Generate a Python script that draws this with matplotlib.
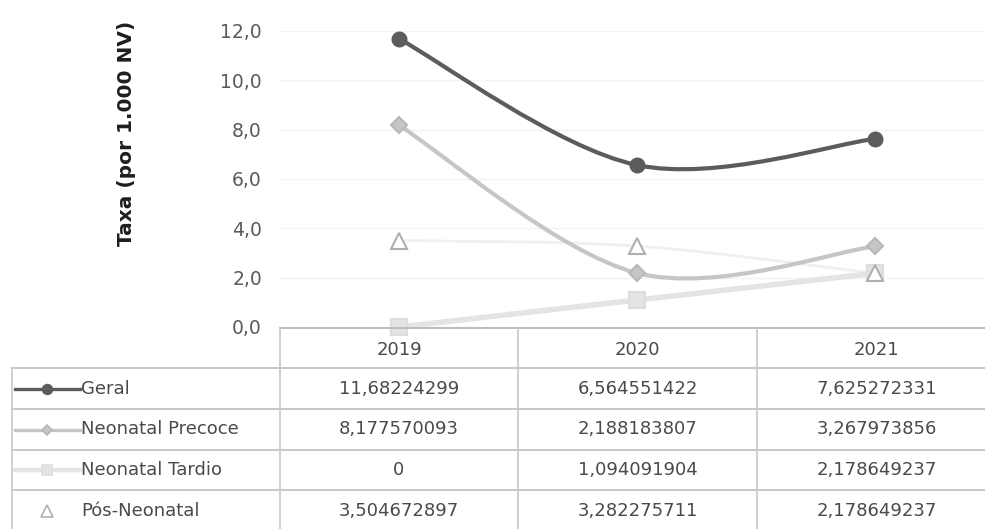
import matplotlib
matplotlib.use("Agg")
import matplotlib.pyplot as plt
from matplotlib.path import Path
from matplotlib.patches import PathPatch
from matplotlib.lines import Line2D

plt.rcParams['font.family'] = ['DejaVu Sans']

# Data
years = ['2019', '2020', '2021']
geral = [11.68224299, 6.564551422, 7.625272331]
precoce = [8.177570093, 2.188183807, 3.267973856]
tardio = [0, 1.094091904, 2.178649237]
pos_neo = [3.504672897, 3.282275711, 2.178649237]
series_names = ['Geral', 'Neonatal Precoce', 'Neonatal Tardio', 'Pós-Neonatal']
yticks = [0, 2, 4, 6, 8, 10, 12]

W, H = 985, 529
fig = plt.figure(figsize=(W / 100, H / 100), dpi=100)

# plot area in pixels: x 280..994, y 31(=12)..327(=0)
ax = fig.add_axes([280 / W, 1 - 327 / H, 714 / W, (327 - 31) / H])
ax.set_xlim(-0.5, 2.5)
ax.set_ylim(0, 12)
for s in ax.spines.values():
    s.set_visible(False)
ax.set_xticks([])
ax.set_yticks(yticks)
ax.set_yticklabels([f"{v:.1f}".replace('.', ',') for v in yticks], color='#5a5a5a', fontsize=13.5)
ax.tick_params(axis='y', length=0, pad=13)
ax.grid(axis='y', color='#f3f3f3', lw=1)
ax.set_axisbelow(True)


def smooth_path(xs, ys):
    pts = list(zip(xs, ys))
    n = len(pts)
    verts = [pts[0]]
    codes = [Path.MOVETO]
    for i in range(n - 1):
        p0 = pts[i - 1] if i > 0 else pts[i]
        p1 = pts[i]
        p2 = pts[i + 1]
        p3 = pts[i + 2] if i + 2 < n else pts[i + 1]
        c1 = (p1[0] + (p2[0] - p0[0]) / 6, p1[1] + (p2[1] - p0[1]) / 6)
        c2 = (p2[0] - (p3[0] - p1[0]) / 6, p2[1] - (p3[1] - p1[1]) / 6)
        verts += [c1, c2, p2]
        codes += [Path.CURVE4] * 3
    return Path(verts, codes)


xs = list(range(len(years)))
styles = [
    dict(vals=geral, color='#5c5c5c', lw=3, marker='o', ms=10, mfc='#5c5c5c', mec='#5c5c5c', key=True),
    dict(vals=precoce, color='#c6c6c6', lw=3, marker='D', ms=8, mfc='#c6c6c6', mec='#b8b8b8', key=True),
    dict(vals=tardio, color='#e4e4e4', lw=4, marker='s', ms=11, mfc='#e4e4e4', mec='#dddddd', key=True),
    dict(vals=pos_neo, color='#f0f0f0', lw=2, marker='^', ms=12, mfc='white', mec='#b0b0b0', key=False),
]
for z, st in zip([5, 4, 3, 2], styles):
    ax.add_patch(PathPatch(smooth_path(xs, st['vals']), fill=False, ec=st['color'],
                           lw=st['lw'], capstyle='round', zorder=z, clip_on=False))
for z, st in zip([5, 4, 3, 6], styles):
    ax.plot(xs, st['vals'], ls='none', marker=st['marker'], ms=st['ms'], mfc=st['mfc'],
            mec=st['mec'], mew=1.5, zorder=z + 0.5, clip_on=False)

# Y label
fig.text(127 / W, 1 - 133 / H, 'Taxa (por 1.000 NV)', rotation=90, ha='center', va='center',
         fontsize=14.5, fontweight='bold', color='#1e1e1e')

# Data table drawn in pixel coords
tab = fig.add_axes([0, 0, 1, 1])
tab.set_xlim(0, W)
tab.set_ylim(H, 0)
tab.axis('off')

col_x = [12, 280, 518, 757, 996]
row_y = [328, 368, 409, 450, 490, 531]
lc = '#c8c8c8'
tab.plot([280, W], [row_y[0], row_y[0]], color='#bdbdbd', lw=1.4)
for yy in row_y[1:5]:
    tab.plot([col_x[0], W], [yy, yy], color=lc, lw=1.4)
tab.plot([col_x[0], col_x[0]], [row_y[1], H], color=lc, lw=1.2)
for xx in col_x[1:4]:
    tab.plot([xx, xx], [row_y[0], H], color=lc, lw=1.2)

txt_color = '#4a4a4a'
centers = [(col_x[j] + col_x[j + 1]) / 2 for j in range(1, 4)]
for cx, yr in zip(centers, years):
    tab.text(cx, (row_y[0] + row_y[1]) / 2 + 2, yr, ha='center', va='center', fontsize=13, color=txt_color)

all_vals = [geral, precoce, tardio, pos_neo]
for i, (name, vals, st) in enumerate(zip(series_names, all_vals, styles)):
    cy = (row_y[i + 1] + row_y[i + 2]) / 2
    if st['key']:
        tab.add_line(Line2D([15, 80], [cy, cy], color=st['color'], lw=st['lw'] * 0.8))
    tab.add_line(Line2D([47], [cy], marker=st['marker'], ms=st['ms'] * 0.7, mfc=st['mfc'],
                        mec=st['mec'], mew=1.2, ls='none'))
    tab.text(81, cy, name, ha='left', va='center', fontsize=13, color=txt_color)
    for cx, v in zip(centers, vals):
        s = f"{v:.10g}".replace('.', ',')
        tab.text(cx, cy, s, ha='center', va='center', fontsize=13, color=txt_color)

fig.savefig('out.png', dpi=100, facecolor='white')
